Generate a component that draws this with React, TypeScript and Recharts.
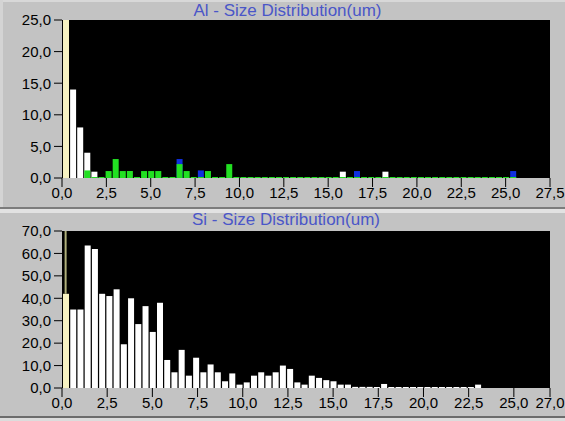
import React from 'react';
import { BarChart, Bar, XAxis, YAxis, CartesianGrid, Cell, ReferenceLine } from 'recharts';

const BIN = 0.4;
const n = null;

// Al – size distribution (bins of 0.4 um)
const alWhite = [
  25, 14, 8, 4, 1, n, n, n, n, n,
  n, n, n, n, n, n, n, n, n, n,
  n, n, n, n, n, n, n, n, n, n,
  n, n, n, n, n, n, n, n, n, 1,
  n, n, n, n, n, 1, n, n, n, n,
  n, n, n, n, n, n, n, n, n, n,
  n, n, n, n,
];
const alBlue = [
  n, n, n, n, n, n, n, n, n, n,
  n, n, n, n, n, n, 3.0, n, n, 1.2,
  n, n, n, n, n, n, n, n, n, n,
  n, n, n, n, n, n, n, n, n, n,
  n, 1.1, n, n, n, n, n, n, n, n,
  n, n, n, n, n, n, n, n, n, n,
  n, n, n, 1.1,
];
const alGreen = [
  n, n, n, 1.2, 0, 0, 1.1, 3.0, 1.1, 1.1,
  0, 1.1, 1.1, 1.1, 0, 0, 2.2, 1.1, 0, 0,
  1.1, 0, 0, 2.2, 0, 0, 0, 0, 0, 0,
  0, 0, 0, 0, 0, 0, 0, 0, 0, 0,
  0, 0, 0, 0, 0, 0, 0, 0, 0, 0,
  0, 0, 0, 0, 0, 0, 0, 0, 0, 0,
  0, 0, 0, 0,
];

// Si – size distribution (bins of 0.4 um)
const siWhite = [
  42, 35, 35, 63.5, 62, 42, 41, 44, 19.5, 40,
  28.5, 36.5, 25, 38, 12.5, 7, 17, 5.5, 13.5, 7,
  10.5, 7, 3, 6.5, 1.5, 2.5, 5.5, 7, 5.5, 7,
  10, 8.5, 2.5, 1.5, 5.5, 4.5, 3.5, 3, 1.5, 1.5,
  0.5, 0.5, 0.5, 0, 1.8, 0, 0, 0, 0, 0,
  0, 0, 0, 0, 0, 0, 0, 1.5,
];

const alXTicks = [0, 2.5, 5, 7.5, 10, 12.5, 15, 17.5, 20, 22.5, 25, 27.5];
const alYTicks = [0, 5, 10, 15, 20, 25];
const siXTicks = [0, 2.5, 5, 7.5, 10, 12.5, 15, 17.5, 20, 22.5, 25, 27];
const siYTicks = [0, 10, 20, 30, 40, 50, 60, 70];

const selectedBin = 0;

const binCenter = (i: number) => +(BIN * (i + 0.5)).toFixed(2);
const alData = alWhite.map((w, i) => ({ x: binCenter(i), white: w, blue: alBlue[i], green: alGreen[i] }));
const siData = siWhite.map((w, i) => ({ x: binCenter(i), white: w }));

const fmt = (v: number) => v.toFixed(1).replace('.', ',');
const minPt = (v: any) => (v === null || v === undefined || (Array.isArray(v) && v[1] == null) ? 0 : 1);

const FONT = '"Liberation Sans", Arial, sans-serif';
const GRAY = '#c3c3c3';
const YELLOW = '#f7f2c2';
const tickStyle = { fill: '#000', fontSize: 15, fontFamily: FONT };

export default function App() {
  const barSize = 6;
  return (
    <div style={{ position: 'absolute', left: 0, top: 0, width: 565, height: 421, background: GRAY, overflow: 'hidden', fontFamily: FONT }}>
      <div style={{ position: 'absolute', left: 0, top: 0, width: 565, height: 2, background: '#d8d8d8' }} />
      <div style={{ position: 'absolute', left: 0, top: 0, width: 3, height: 207, background: '#d4d4d4' }} />
      <div style={{ position: 'absolute', left: 0, top: 1, width: 575, textAlign: 'center', color: '#4a56c8', fontSize: 17, lineHeight: '20px' }}>
        Al - Size Distribution(um)
      </div>
      <div style={{ position: 'absolute', left: 0, top: 0 }}>
        <BarChart width={565} height={206} data={alData} margin={{ top: 20, right: 15, bottom: 0, left: 0 }} barGap={-barSize}>
          <CartesianGrid fill="#000" horizontal={false} vertical={false} />
          <XAxis type="number" dataKey="x" domain={[0, 27.5]} ticks={alXTicks} interval={0} tickFormatter={fmt}
            tick={tickStyle} tickSize={9} tickMargin={0} axisLine={false} tickLine={{ stroke: '#000' }} height={28} />
          <YAxis type="number" domain={[0, 25]} ticks={alYTicks} interval={0} tickFormatter={fmt} allowDataOverflow
            tick={tickStyle} tickSize={8} tickMargin={3} axisLine={false} tickLine={{ stroke: '#000' }} width={62} />
          <Bar dataKey="white" fill="#ffffff" barSize={barSize} isAnimationActive={false}>
            {alData.map((d, i) => (
              <Cell key={i} fill={i === selectedBin ? YELLOW : '#ffffff'} />
            ))}
          </Bar>
          <Bar dataKey="blue" fill="#1030e0" barSize={barSize} isAnimationActive={false} />
          <Bar dataKey="green" fill="#22e022" barSize={barSize} minPointSize={minPt} isAnimationActive={false} />
        </BarChart>
      </div>

      <div style={{ position: 'absolute', left: 0, top: 207, width: 565, height: 2, background: '#7c7c7c' }} />
      <div style={{ position: 'absolute', left: 0, top: 209, width: 565, height: 4, background: '#e2e2e2' }} />

      <div style={{ position: 'absolute', left: 0, top: 210, width: 572, textAlign: 'center', color: '#4a56c8', fontSize: 17, lineHeight: '20px' }}>
        Si - Size Distribution(um)
      </div>
      <div style={{ position: 'absolute', left: 0, top: 213 }}>
        <BarChart width={565} height={204} data={siData} margin={{ top: 18, right: 15, bottom: 0, left: 0 }}>
          <CartesianGrid fill="#000" horizontal={false} vertical={false} />
          <XAxis type="number" dataKey="x" domain={[0, 27]} ticks={siXTicks} interval={0} tickFormatter={fmt}
            tick={tickStyle} tickSize={9} tickMargin={0} axisLine={false} tickLine={{ stroke: '#000' }} height={29} />
          <YAxis type="number" domain={[0, 70]} ticks={siYTicks} interval={0} tickFormatter={fmt} allowDataOverflow
            tick={tickStyle} tickSize={8} tickMargin={3} axisLine={false} tickLine={{ stroke: '#000' }} width={62} />
          <Bar dataKey="white" fill="#ffffff" barSize={barSize} minPointSize={minPt} isAnimationActive={false}>
            {siData.map((d, i) => (
              <Cell key={i} fill={i === selectedBin ? YELLOW : '#ffffff'} />
            ))}
          </Bar>
          <ReferenceLine
            segment={[{ x: siData[selectedBin].x, y: 70 }, { x: siData[selectedBin].x, y: siData[selectedBin].white as number }]}
            stroke="#b0b07c" strokeWidth={2} ifOverflow="visible" />
        </BarChart>
      </div>
      <div style={{ position: 'absolute', left: 0, top: 416, width: 565, height: 2, background: '#6c6c6c' }} />
      <div style={{ position: 'absolute', left: 0, top: 418, width: 565, height: 3, background: '#dcdcdc' }} />
    </div>
  );
}
